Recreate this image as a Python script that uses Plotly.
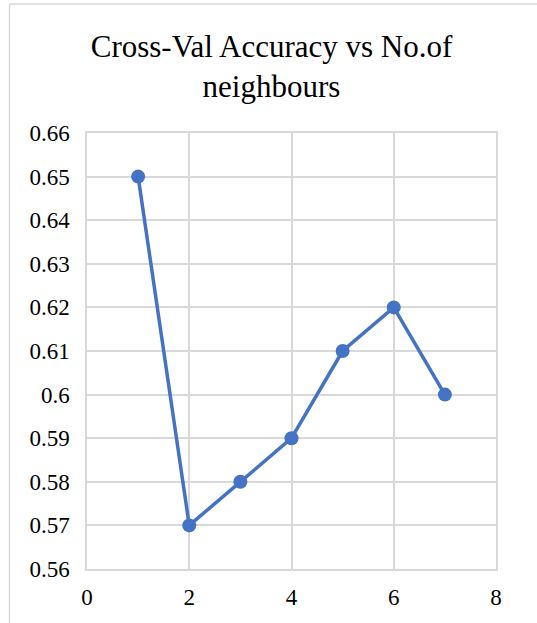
import plotly.graph_objects as go

# Cross-validation accuracy for each neighbour count
neighbours = [1, 2, 3, 4, 5, 6, 7]
accuracy = [0.65, 0.57, 0.58, 0.59, 0.61, 0.62, 0.60]

x_ticks = [0, 2, 4, 6, 8]
y_ticks = [0.56, 0.57, 0.58, 0.59, 0.60, 0.61, 0.62, 0.63, 0.64, 0.65, 0.66]
y_tick_text = ["0.56", "0.57", "0.58", "0.59", "0.6", "0.61", "0.62", "0.63", "0.64", "0.65", "0.66"]

W, H = 537, 623
L, R, T, B = 87, 41, 133, 54
plot_w = W - L - R
plot_h = H - T - B

SERIF = "Liberation Serif"

def px_to_paper_x(px):
    return (px - L) / plot_w

def px_to_paper_y(py):
    return (H - B - py) / plot_h

fig = go.Figure()
fig.add_trace(go.Scatter(
    x=neighbours, y=accuracy,
    mode="lines+markers",
    line=dict(color="#4472C4", width=3.5),
    marker=dict(color="#4472C4", size=14),
    showlegend=False,
))

axis_font = dict(family=SERIF, size=23, color="#000000")

fig.update_xaxes(
    range=[0, 8], tickvals=x_ticks, ticktext=[str(v) for v in x_ticks],
    showgrid=True, gridcolor="#d9d9d9", gridwidth=1.5,
    zeroline=False, showline=True, linecolor="#d9d9d9", linewidth=1.5, mirror=True,
    tickfont=axis_font, ticks="", ticklabelstandoff=7,
)
fig.update_yaxes(
    range=[0.56, 0.66], tickvals=y_ticks, ticktext=y_tick_text,
    showgrid=True, gridcolor="#d9d9d9", gridwidth=1.5,
    zeroline=False, showline=True, linecolor="#d9d9d9", linewidth=1.5, mirror=True,
    tickfont=axis_font, ticks="", ticklabelstandoff=11,
)

# Chart frame (left and top edges)
frame = dict(type="line", xref="paper", yref="paper", line=dict(color="#d9d9d9", width=1.5), layer="below")
fig.add_shape(**frame, x0=px_to_paper_x(9.5), x1=px_to_paper_x(9.5), y0=px_to_paper_y(4), y1=px_to_paper_y(640))
fig.add_shape(**frame, x0=px_to_paper_x(9.5), x1=px_to_paper_x(560), y0=px_to_paper_y(4), y1=px_to_paper_y(4))

fig.update_layout(
    width=W, height=H,
    margin=dict(l=L, r=R, t=T, b=B),
    paper_bgcolor="white", plot_bgcolor="white",
    font=dict(family=SERIF),
    title=dict(
        text="Cross-Val Accuracy vs No.of<br>neighbours",
        font=dict(family=SERIF, size=31, color="#000000"),
        x=271.5 / W, xanchor="center", xref="container",
        y=1 - 57 / H, yanchor="middle", yref="container",
    ),
)

fig.write_html("out.html")
